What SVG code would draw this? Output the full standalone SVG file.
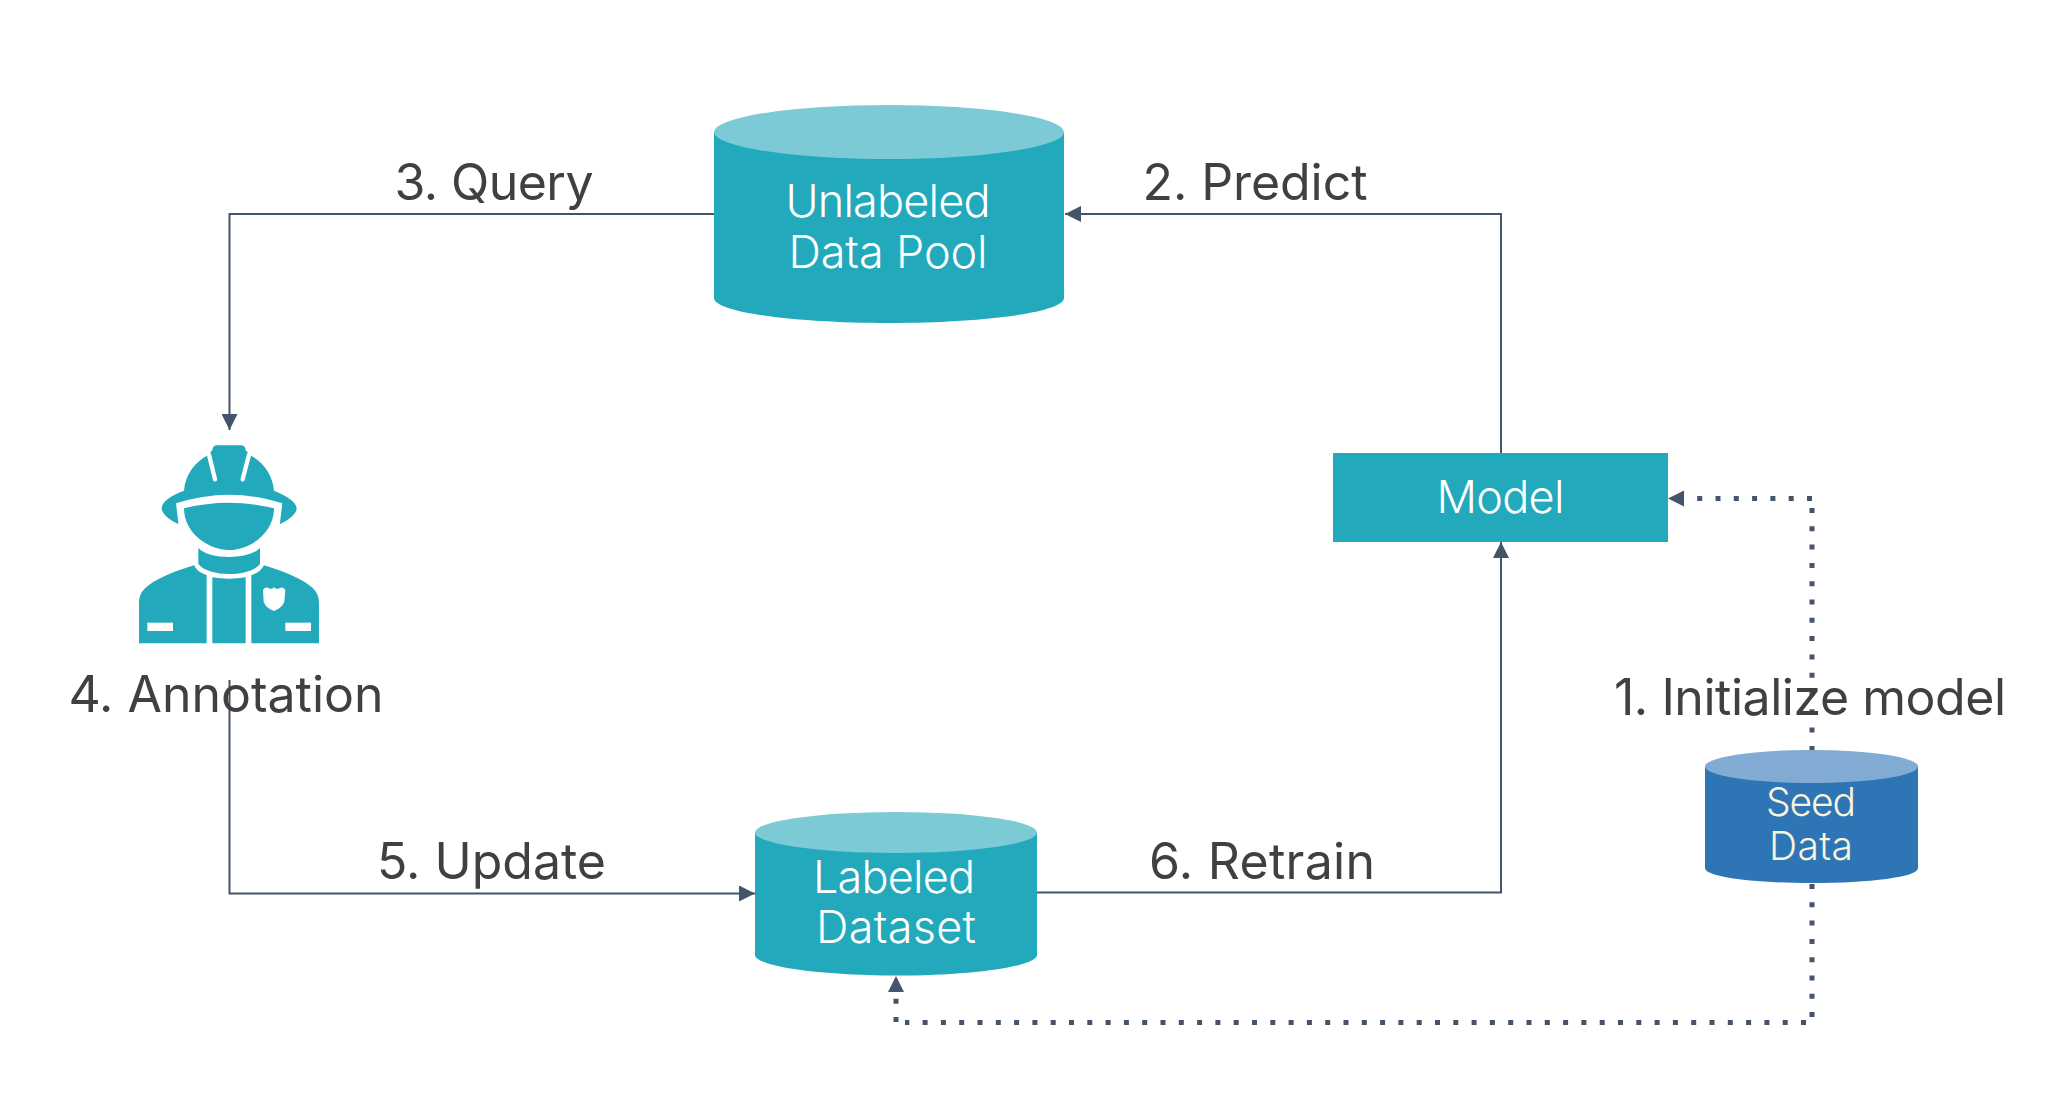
<svg xmlns="http://www.w3.org/2000/svg" width="2066" height="1120" viewBox="0 0 2066 1120">
<defs>
<marker id="ah" markerUnits="userSpaceOnUse" markerWidth="16" markerHeight="16" refX="16" refY="8" orient="auto"><path d="M0,0L16,8L0,16Z" fill="#44546A"/></marker>
</defs>
<style>
text{font-family:"Inter","Liberation Sans",sans-serif;text-anchor:middle}
.lbl{font-size:50px;fill:#404040}
.in{font-size:45px;fill:#fff;font-weight:350}
.seed{font-size:39px;fill:#FBF3DC;font-weight:350}
.body{fill:#22A9BC}
.top{fill:#7CCAD6}
.line{fill:none;stroke:#44546A;stroke-width:2}
.dot{fill:none;stroke:#44546A;stroke-width:5;stroke-dasharray:5 13.3}
.ico{fill:#22A9BC}
.w{fill:#fff}
</style>
<rect width="2066" height="1120" fill="#fff"/>
<g id="connectors">
<path class="line" d="M1501,453V214H1065" marker-end="url(#ah)"/>
<path class="line" d="M714,214H229.500V430" marker-end="url(#ah)"/>
<path class="line" d="M229.500,680V893.500H755" marker-end="url(#ah)"/>
<path class="line" d="M1037,892.500H1501V542" marker-end="url(#ah)"/>
<path class="dot" d="M1812,498.500H1686"/>
<path class="dot" d="M1812,508V751"/>
<path class="dot" d="M1812,884V1018"/>
<path class="dot" d="M1806,1022.500H905"/>
<path class="dot" d="M896,1022V994"/>
<path d="M1668,498.500L1684,490.500V506.500Z" fill="#44546A"/>
<path d="M896,976L888,992H904Z" fill="#44546A"/>
</g>
<g id="unlabeled-pool">
<path class="body" d="M714,132V298C714,312 792,323 889,323S1064,312 1064,298V132Z"/>
<ellipse class="top" cx="889" cy="132" rx="175" ry="27"/>
<text class="in" x="888" y="217" textLength="205">Unlabeled</text>
<text class="in" x="888" y="268" textLength="199">Data Pool</text>
</g>
<g id="labeled-dataset">
<path class="body" d="M755,832.500V955C755,966 818,975.500 896,975.500S1037,966 1037,955V832.500Z"/>
<ellipse class="top" cx="896" cy="832.500" rx="141" ry="20.500"/>
<text class="in" x="894" y="892.500" textLength="162">Labeled</text>
<text class="in" x="896" y="942.500" textLength="160">Dataset</text>
</g>
<g id="model">
<rect class="body" x="1333" y="453" width="335" height="89"/>
<text class="in" x="1500.500" y="513" textLength="128">Model</text>
</g>
<g id="seed-data">
<path class="body" d="M1705,766V868C1705,877 1753,883 1811.500,883S1918,877 1918,868V766Z" style="fill:#2E75B6"/>
<ellipse cx="1811.500" cy="766.500" rx="106.500" ry="16.500" fill="#82ABD4"/>
<text class="seed" x="1811" y="816" textLength="90">Seed</text>
<text class="seed" x="1811" y="860" textLength="84">Data</text>
</g>
<g id="annotator" transform="translate(100 420) scale(.33333)">
<path class="ico" d="M252,212C255,165 285,125 325,105L337,90Q338,76 352,76L422,76Q436,76 437,90L449,105C490,125 518,165 522,212C555,225 590,245 590,265C590,285 560,303 540,312L235,312C215,303 185,285 185,265C185,245 215,225 252,212Z"/>
<path d="M327,104L345,178M447,104L428,178" stroke="#fff" stroke-width="13" stroke-linecap="round" fill="none"/>
<path class="w" d="M236,316L228,250Q387,198 547,250L539,316Z"/>
<path class="ico" d="M252,265Q387,232 522,265C522,340 450,390 387,390C325,390 252,340 252,265Z"/>
<path class="ico" d="M295,383C325,420 450,420 480,383V432C450,472 325,472 295,432Z"/>
<path class="ico" d="M282,436C220,455 160,480 135,505C120,520 117,535 117,550V670H320V465C300,460 290,450 282,436Z"/>
<path class="ico" d="M492,436C554,455 614,480 639,505C654,520 657,535 657,550V670H454V465C474,460 484,450 492,436Z"/>
<path class="ico" d="M337,472Q387,480 437,472V670H337Z"/>
<rect class="w" x="142" y="608" width="77" height="25"/>
<rect class="w" x="556" y="608" width="77" height="25"/>
<path class="w" d="M489,510Q496,500 505,504Q515,510 522,502Q530,510 540,504Q549,500 556,510L553,545Q545,565 522,573Q498,565 491,545Z"/>
</g>
<g id="labels">
<text class="lbl" x="494" y="200" textLength="199">3. Query</text>
<text class="lbl" x="1255" y="200" textLength="225">2. Predict</text>
<text class="lbl" x="226" y="712" textLength="315">4. Annotation</text>
<text class="lbl" x="491.500" y="879" textLength="229">5. Update</text>
<text class="lbl" x="1262" y="879" textLength="226">6. Retrain</text>
<text class="lbl" x="1810" y="715" textLength="392">1. Initialize model</text>
</g>
</svg>
